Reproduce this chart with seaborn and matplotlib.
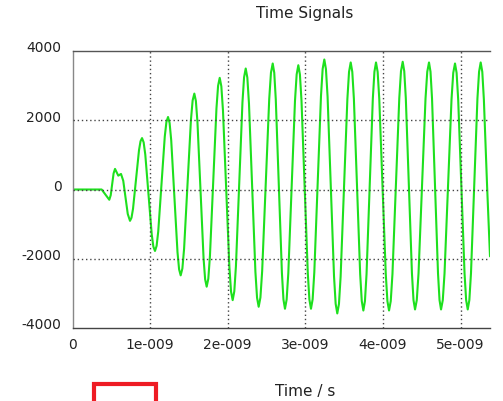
import matplotlib
matplotlib.use('Agg')
import matplotlib.pyplot as plt
import matplotlib.transforms as mtransforms
from matplotlib.patches import Rectangle
import seaborn as sns

tempo_ns = [
    0.0, 0.376, 0.474, 0.4925, 0.511, 0.5295, 0.548, 0.590, 0.625, 0.654, 0.683, 0.712, 0.741,
    0.7604, 0.780, 0.8185, 0.857, 0.8766, 0.896,
    0.9169, 0.938, 0.9795, 1.021, 1.0421, 1.063,
    1.084, 1.105, 1.147, 1.189, 1.210, 1.231,
    1.2514, 1.272, 1.3125, 1.353, 1.3736, 1.394,
    1.416, 1.438, 1.482, 1.526, 1.548, 1.570,
    1.5899, 1.610, 1.6495, 1.689, 1.7091, 1.729,
    1.750, 1.771, 1.813, 1.855, 1.876, 1.897,
    1.9179, 1.939, 1.9805, 2.022, 2.0431, 2.064,
    2.085, 2.106, 2.148, 2.190, 2.211, 2.232,
    2.2529, 2.274, 2.3155, 2.357, 2.3781, 2.399,
    2.4216, 2.444, 2.4895, 2.535, 2.5574, 2.580,
    2.5998, 2.6195, 2.659, 2.6985, 2.7183, 2.738,
    2.7595, 2.781, 2.824, 2.867, 2.8885, 2.910,
    2.9304, 2.951, 2.9915, 3.032, 3.0526, 3.073,
    3.0945, 3.116, 3.159, 3.202, 3.2235, 3.245,
    3.2659, 3.287, 3.3285, 3.370, 3.3911, 3.412,
    3.4336, 3.455, 3.4985, 3.542, 3.5634, 3.585,
    3.6054, 3.626, 3.6665, 3.707, 3.7276, 3.748,
    3.7684, 3.789, 3.8295, 3.870, 3.8906, 3.911,
    3.932, 3.953, 3.995, 4.037, 4.058, 4.079,
    4.101, 4.123, 4.167, 4.211, 4.233, 4.255,
    4.2749, 4.295, 4.3345, 4.374, 4.3941, 4.414,
    4.4365, 4.459, 4.504, 4.549, 4.5715, 4.594,
    4.6134, 4.633, 4.6715, 4.710, 4.7296, 4.749,
    4.7715, 4.794, 4.839, 4.884, 4.9065, 4.929,
    4.9495, 4.970, 5.011, 5.052, 5.0725, 5.093,
    5.1139, 5.135, 5.1765, 5.218, 5.2391, 5.260,
    5.2806, 5.301, 5.3425, 5.380,
]
amplitude = [
    0, 0, -296, -165, 150, 465, 595, 400, 450, 252, -227, -706, -905,
    -814, -555, 290, 1135, 1394, 1485,
    1361, 1007, -145, -1297, -1651, -1775,
    -1627, -1208, 160, 1528, 1947, 2094,
    1920, 1424, -193, -1810, -2306, -2480,
    -2281, -1711, 145, 2001, 2571, 2770,
    2558, 1953, -18, -1989, -2594, -2807,
    -2578, -1923, 209, 2341, 2996, 3225,
    2981, 2285, 15, -2255, -2951, -3196,
    -2942, -2215, 150, 2515, 3242, 3495,
    3233, 2487, 54, -2379, -3125, -3387,
    -3120, -2357, 127, 2611, 3374, 3640,
    3372, 2603, 98, -2407, -3176, -3445,
    -3178, -2414, 73, 2560, 3324, 3590,
    3324, 2560, 73, -2414, -3178, -3445,
    -3171, -2390, 155, 2700, 3481, 3755,
    3477, 2681, 88, -2505, -3301, -3580,
    -3305, -2518, 45, 2608, 3395, 3670,
    3399, 2621, 88, -2445, -3223, -3495,
    -3223, -2445, 88, 2621, 3399, 3670,
    3399, 2621, 88, -2445, -3223, -3495,
    -3222, -2442, 98, 2638, 3418, 3690,
    3419, 2642, 113, -2416, -3193, -3465,
    -3194, -2419, 103, 2625, 3400, 3670,
    3400, 2625, 103, -2419, -3194, -3465,
    -3195, -2424, 88, 2600, 3371, 3640,
    3371, 2600, 88, -2424, -3195, -3465,
    -3194, -2419, 103, 2625, 3400, 3670,
    3400, 2600, 100, -1930,
]

xticks = [0, 1, 2, 3, 4, 5]
xtick_labels = ['0', '1e-009', '2e-009', '3e-009', '4e-009', '5e-009']
yticks = [-4000, -2000, 0, 2000, 4000]
ytick_labels = ['-4000', '-2000', '0', '2000', '4000']

sns.set_style('white')
plt.rcParams['font.family'] = ['DejaVu Sans']

fig = plt.figure(figsize=(5.03, 4.01), dpi=100)
ax = fig.add_axes([72.5 / 503, 73 / 401, 417.5 / 503, 277 / 401])

sns.lineplot(x=tempo_ns, y=amplitude, sort=False, estimator=None, ax=ax,
             color='#1ee01e', linewidth=1.5, solid_joinstyle='round')

ax.set_xlim(0, 5.38)
ax.set_ylim(-4000, 4000)
ax.set_xticks(xticks)
ax.set_xticklabels(xtick_labels, fontsize=10, color='#222222')
ax.set_yticks(yticks)
ax.set_yticklabels(ytick_labels, fontsize=10, color='#222222')

# grade pontilhada
for x in xticks[1:]:
    ax.axvline(x, color='#444444', linestyle=(0, (1, 2)), linewidth=1, zorder=3)
for y in yticks[1:-1]:
    ax.axhline(y, color='#444444', linestyle=(0, (1, 2)), linewidth=1, zorder=3)

ax.spines['right'].set_visible(False)
ax.spines['top'].set_color('#555555')
ax.spines['left'].set_color('#888888')
ax.spines['bottom'].set_color('#444444')
for s in ['top', 'left', 'bottom']:
    ax.spines[s].set_linewidth(1)

ax.tick_params(axis='x', direction='inout', length=7, color='#444444', pad=4)
ax.tick_params(axis='y', direction='out', length=6, color='#888888', pad=2)

# rótulos do eixo y um pouco acima da linha
offset = mtransforms.ScaledTranslation(0, 3 / 72, fig.dpi_scale_trans)
for lab in ax.get_yticklabels():
    lab.set_transform(lab.get_transform() + offset)

ax.set_title('Time Signals', x=0.557, pad=24, fontsize=11, color='#222222')
ax.set_xlabel('Time / s', x=0.557, labelpad=23, fontsize=11, color='#222222')
ax.set_ylabel('')

# caixa vermelha (legenda cortada)
fig.patches.append(Rectangle((94 / 503, -20 / 401), 62 / 503, 37 / 401,
                             transform=fig.transFigure, fill=False,
                             edgecolor='#ee1c24', linewidth=3))

fig.savefig('out.png', dpi=100)
